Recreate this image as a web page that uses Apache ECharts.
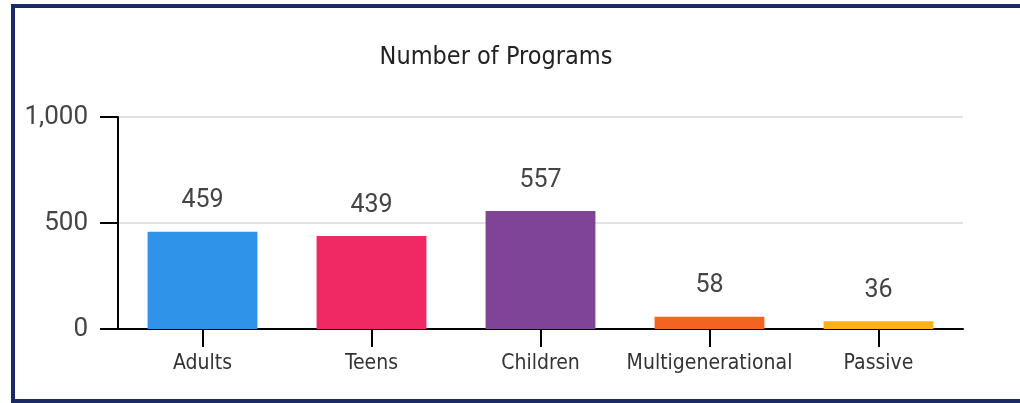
<!DOCTYPE html>
<html>
<head>
<meta charset="utf-8">
<script src="https://cdn.jsdelivr.net/npm/echarts@6/dist/echarts.min.js"></script>
<style>
html,body{margin:0;padding:0;background:#fff;}
#frame{position:absolute;left:11px;top:4px;width:1100px;height:391px;border:4px solid #1c2a64;}
#chart{position:absolute;left:0;top:0;width:1020px;height:403px;}
</style>
</head>
<body>
<div id="frame"></div>
<div id="chart"></div>
<script>
const titleText = 'Number of Programs';
const categories = ['Adults', 'Teens', 'Children', 'Multigenerational', 'Passive'];
const values = [459, 439, 557, 58, 36];
const barColors = ['#2f93ea', '#ef2963', '#7f4496', '#f26422', '#fbb117'];
const yTicks = [0, 500, 1000];

const condensed = '"Liberation Sans Narrow", "DejaVu Sans Condensed", Roboto, sans-serif';
const chart = echarts.init(document.getElementById('chart'), null, {renderer: 'canvas'});
chart.setOption({
  animation: false,
  backgroundColor: 'transparent',
  title: {
    text: titleText,
    left: 491, top: 40, textAlign: 'center',
    textStyle: {fontFamily: condensed, fontSize: 25, fontWeight: 500, color: '#222'}
  },
  grid: {left: 118, right: 57, top: 117, bottom: 74, containLabel: false},
  xAxis: {
    type: 'category',
    data: categories,
    axisLine: {show: true, lineStyle: {color: '#000', width: 2}},
    axisTick: {show: true, interval: 0, alignWithLabel: true, inside: false, length: 18, lineStyle: {color: '#000', width: 2}},
    axisLabel: {interval: 0, margin: 24, fontFamily: condensed, fontSize: 21, color: '#333'}
  },
  yAxis: {
    type: 'value',
    min: yTicks[0], max: yTicks[yTicks.length - 1], interval: yTicks[1] - yTicks[0],
    axisLine: {show: true, lineStyle: {color: '#000', width: 2}},
    axisTick: {show: true, inside: false, length: 18, lineStyle: {color: '#000', width: 2}},
    axisLabel: {margin: 30, fontFamily: 'Roboto, sans-serif', fontSize: 26, color: '#444',
      padding: [5, 0, 0, 0],
      formatter: v => v.toLocaleString('en-US')},
    splitLine: {lineStyle: {color: '#e2e2e2', width: 2}}
  },
  series: [{
    type: 'bar',
    barWidth: '65%',
    data: values.map((v, i) => ({value: v, itemStyle: {color: barColors[i]}})),
    label: {show: true, position: 'top', distance: 18, fontFamily: 'Roboto, sans-serif', fontSize: 25, color: '#444'}
  }]
});
</script>
</body>
</html>
